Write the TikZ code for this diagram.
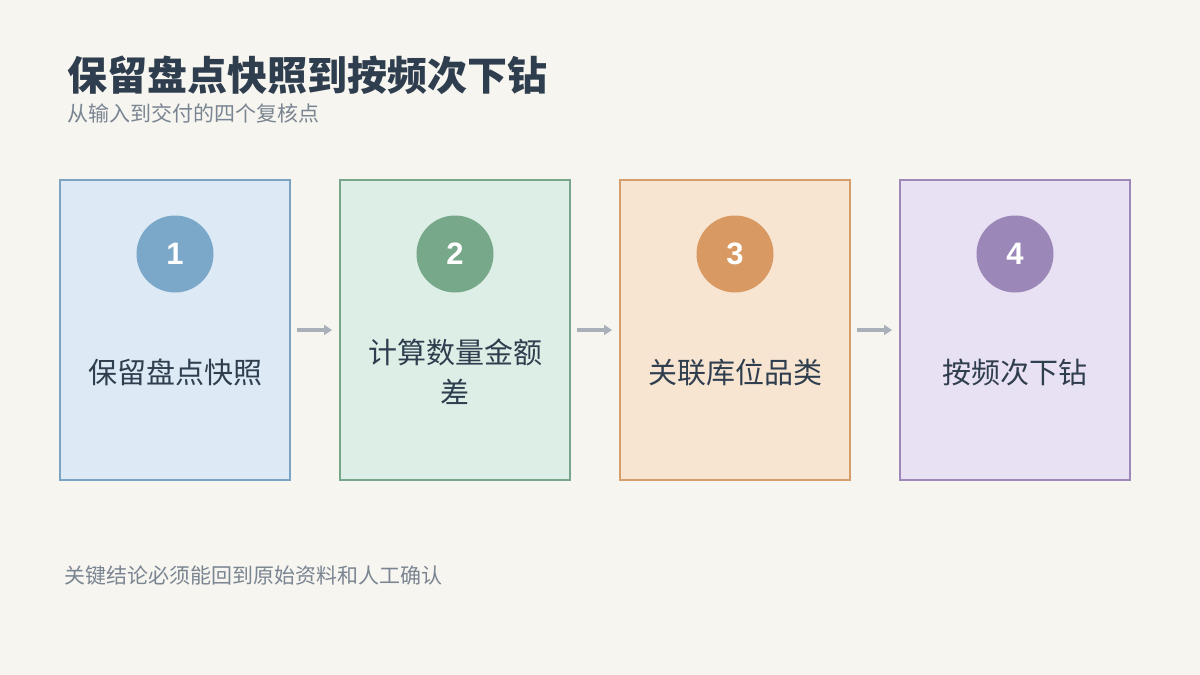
\documentclass[tikz,border=0pt]{standalone}
\usepackage{fontspec}
\setmainfont{Noto Sans CJK SC}
\newfontfamily\numfont{Liberation Sans}
\definecolor{bg}{HTML}{F7F5F0}
\definecolor{ink}{HTML}{2F3E4E}
\definecolor{sub}{HTML}{7A8592}
\definecolor{arr}{HTML}{A9B0BA}
\definecolor{fa}{HTML}{DDEAF6}\definecolor{sa}{HTML}{7BA3C4}\definecolor{ca}{HTML}{7BA7C9}
\definecolor{fb}{HTML}{DDEEE6}\definecolor{sb}{HTML}{78A68A}\definecolor{cb}{HTML}{78A88A}
\definecolor{fc}{HTML}{F7E5D2}\definecolor{sc}{HTML}{D59E6A}\definecolor{cc}{HTML}{D89A62}
\definecolor{fd}{HTML}{E8E0F3}\definecolor{sd}{HTML}{9D88B8}\definecolor{cd}{HTML}{9B87B8}
\begin{document}
\begin{tikzpicture}[x=1pt,y=-1pt,
  box/.style={draw,line width=2pt,minimum width=230pt,minimum height=300pt,inner sep=0pt},
  num/.style={circle,minimum size=77pt,inner sep=0pt,text=white,font=\numfont\bfseries\fontsize{31}{36}\selectfont},
  lab/.style={text=ink,align=center,text width=200pt,font=\fontsize{29}{40}\selectfont},
  conn/.style={arr,line width=3.5pt,-{Triangle[length=8pt,width=10pt]}}]
\usetikzlibrary{arrows.meta}
\fill[bg] (0,0) rectangle (1200,675);
\node[anchor=west,text=ink,font=\bfseries\fontsize{40}{46}\selectfont] (title) at (64,75) {保留盘点快照到按频次下钻};
\node[anchor=west,text=sub,font=\fontsize{21}{25}\selectfont] (subt) at (64,113) {从输入到交付的四个复核点};
\node[anchor=west,text=sub,font=\fontsize{21}{25}\selectfont] (foot) at (61,576) {关键结论必须能回到原始资料和人工确认};
\foreach \i/\x/\f/\s/\c/\t in {1/175/fa/sa/ca/保留盘点快照,2/455/fb/sb/cb/计算数量金额\\差,3/735/fc/sc/cc/关联库位品类,4/1015/fd/sd/cd/按频次下钻}{
  \node[box,fill=\f,draw=\s] (b\i) at (\x,330) {};
  \node[num,fill=\c] (n\i) at (\x,254) {\i};
  \node[lab] (l\i) at (\x,372) {\t};
}
\foreach \a/\b in {1/2,2/3,3/4}{
  \coordinate (s\a) at ([xshift=6pt]b\a.east);
  \coordinate (e\a) at ([xshift=-7pt]b\b.west);
  \draw[conn] (s\a) -- (e\a);
}
\end{tikzpicture}
\end{document}
